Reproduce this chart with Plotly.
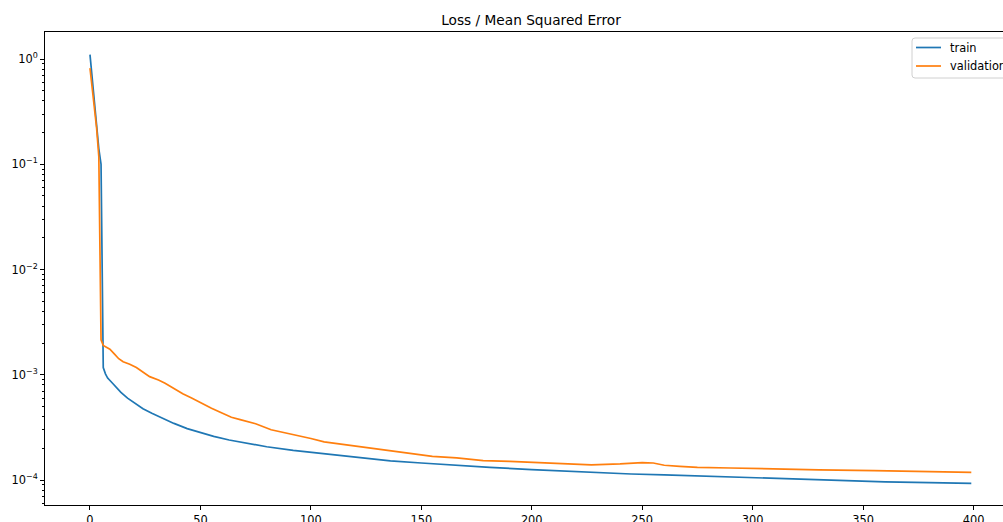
import plotly.graph_objects as go

# ---- data ----
train_epochs = [0, 1, 2, 3, 4, 5, 6, 7, 8, 10, 12, 14, 17, 20, 24, 28, 33, 38, 44, 50, 56,
                63, 70, 80, 92, 105, 120, 136, 150, 165, 181, 200, 215, 230, 245, 260,
                280, 300, 320, 340, 360, 380, 399]
train_loss = [1.1, 0.65, 0.40, 0.24, 0.14, 0.10, 1.17e-3, 1.02e-3, 9.3e-4, 8.4e-4, 7.5e-4,
              6.8e-4, 6.0e-4, 5.45e-4, 4.75e-4, 4.3e-4, 3.82e-4, 3.45e-4, 3.08e-4, 2.82e-4,
              2.6e-4, 2.4e-4, 2.25e-4, 2.07e-4, 1.91e-4, 1.78e-4, 1.64e-4, 1.52e-4,
              1.45e-4, 1.38e-4, 1.32e-4, 1.255e-4, 1.21e-4, 1.165e-4, 1.14e-4, 1.12e-4,
              1.085e-4, 1.055e-4, 1.02e-4, 9.9e-5, 9.6e-5, 9.45e-5, 9.3e-5]

val_epochs = [0, 1, 2, 3, 4, 5, 6, 7, 8, 9, 11, 13, 15, 18, 21, 24, 27, 31, 34, 38, 42,
              46, 50, 55, 60, 64, 68, 75, 82, 88, 93, 100, 106, 115, 123, 131, 140, 155,
              166, 178, 190, 204, 215, 227, 240, 250, 255, 260, 267, 275, 290, 310, 330,
              355, 380, 399]
val_loss = [0.82, 0.55, 0.36, 0.22, 0.118, 2.15e-3, 1.9e-3, 1.85e-3, 1.82e-3, 1.75e-3,
            1.58e-3, 1.42e-3, 1.33e-3, 1.26e-3, 1.17e-3, 1.07e-3, 9.6e-4, 8.9e-4, 8.3e-4,
            7.4e-4, 6.6e-4, 6.0e-4, 5.4e-4, 4.8e-4, 4.3e-4, 3.95e-4, 3.75e-4, 3.42e-4,
            3.0e-4, 2.82e-4, 2.66e-4, 2.48e-4, 2.3e-4, 2.17e-4, 2.05e-4, 1.93e-4, 1.83e-4,
            1.68e-4, 1.62e-4, 1.53e-4, 1.5e-4, 1.45e-4, 1.42e-4, 1.39e-4, 1.42e-4, 1.46e-4,
            1.45e-4, 1.38e-4, 1.35e-4, 1.32e-4, 1.3e-4, 1.27e-4, 1.25e-4, 1.23e-4, 1.2e-4,
            1.18e-4]

series_names = ["train", "validation"]
series_colors = ["#1f77b4", "#ff7f0e"]

x_ticks = [0, 50, 100, 150, 200, 250, 300, 350, 400]
y_tickvals = [1, 0.1, 0.01, 0.001, 0.0001]
y_ticktext = ["10<sup>0</sup>", "10<sup>\u22121</sup>", "10<sup>\u22122</sup>",
              "10<sup>\u22123</sup>", "10<sup>\u22124</sup>"]
minor_vals = [m * 10.0 ** e for e in range(-5, 1) for m in range(2, 10)]

FONT = "DejaVu Sans"
W, H = 1003, 522
ML, MR, MT, MB = 45, 0, 32, 17
PW, PH = W - ML - MR, H - MT - MB


def px_x(px):
    return (px - ML) / PW


def px_y(py):
    return (H - MB - py) / PH


fig = go.Figure()
fig.add_trace(go.Scatter(x=train_epochs, y=train_loss, mode="lines", name=series_names[0],
                         line=dict(color=series_colors[0], width=1.7), showlegend=False))
fig.add_trace(go.Scatter(x=val_epochs, y=val_loss, mode="lines", name=series_names[1],
                         line=dict(color=series_colors[1], width=1.7), showlegend=False))

# legend drawn manually so it can run off the right edge like the reference
bx0, bx1, by0, by1, r = 912, 1012, 38, 78, 3
rx, ry = r / PW, r / PH
X0, X1, Y0, Y1 = px_x(bx0), px_x(bx1), px_y(by0), px_y(by1)
path = (f"M {X0+rx},{Y0} L {X1-rx},{Y0} Q {X1},{Y0} {X1},{Y0-ry} L {X1},{Y1+ry} "
        f"Q {X1},{Y1} {X1-rx},{Y1} L {X0+rx},{Y1} Q {X0},{Y1} {X0},{Y1+ry} "
        f"L {X0},{Y0-ry} Q {X0},{Y0} {X0+rx},{Y0} Z")
shapes = [dict(type="path", xref="paper", yref="paper", path=path,
               line=dict(color="#d0d0d0", width=1), fillcolor="rgba(255,255,255,0.8)",
               layer="above")]
annotations = []
for i, (name, col) in enumerate(zip(series_names, series_colors)):
    yy = 47.5 + 18.5 * i
    shapes.append(dict(type="line", xref="paper", yref="paper", x0=px_x(916), x1=px_x(941),
                       y0=px_y(yy), y1=px_y(yy), line=dict(color=col, width=1.7),
                       layer="above"))
    annotations.append(dict(text=name, xref="paper", yref="paper", x=px_x(948), y=px_y(yy),
                            xanchor="left", yanchor="middle", showarrow=False,
                            font=dict(family=FONT, size=11.4, color="#000")))

fig.update_layout(
    width=W, height=H,
    margin=dict(l=ML, r=MR, t=MT, b=MB, autoexpand=False),
    paper_bgcolor="white", plot_bgcolor="white",
    font=dict(family=FONT, size=11.4, color="#000"),
    title=dict(text="Loss / Mean Squared Error", font=dict(family=FONT, size=13.7, color="#000"),
               x=531 / W, xref="container", xanchor="center",
               y=1 - 20 / H, yref="container", yanchor="middle"),
    showlegend=False,
    shapes=shapes,
    annotations=annotations,
)

fig.update_xaxes(range=[-20.37, 413.35], tickvals=x_ticks, ticks="outside", ticklen=4,
                 tickwidth=0.9, tickcolor="#000", showline=True, linecolor="#000",
                 linewidth=1, mirror=True, showgrid=False, zeroline=False, automargin=False,
                 tickfont=dict(family=FONT, size=11.4, color="#000"))
fig.update_yaxes(type="log", range=[-4.2375, 0.2565], tickvals=y_tickvals,
                 ticktext=y_ticktext, ticks="outside", ticklen=4, tickwidth=0.9,
                 tickcolor="#000", showline=True, linecolor="#000", linewidth=1,
                 mirror=False, showgrid=False, zeroline=False, automargin=False,
                 tickfont=dict(family=FONT, size=11.4, color="#000"),
                 minor=dict(tickvals=minor_vals, ticks="outside", ticklen=2.3,
                            tickwidth=0.7, tickcolor="#000", showgrid=False))

fig.write_html("out.html")
